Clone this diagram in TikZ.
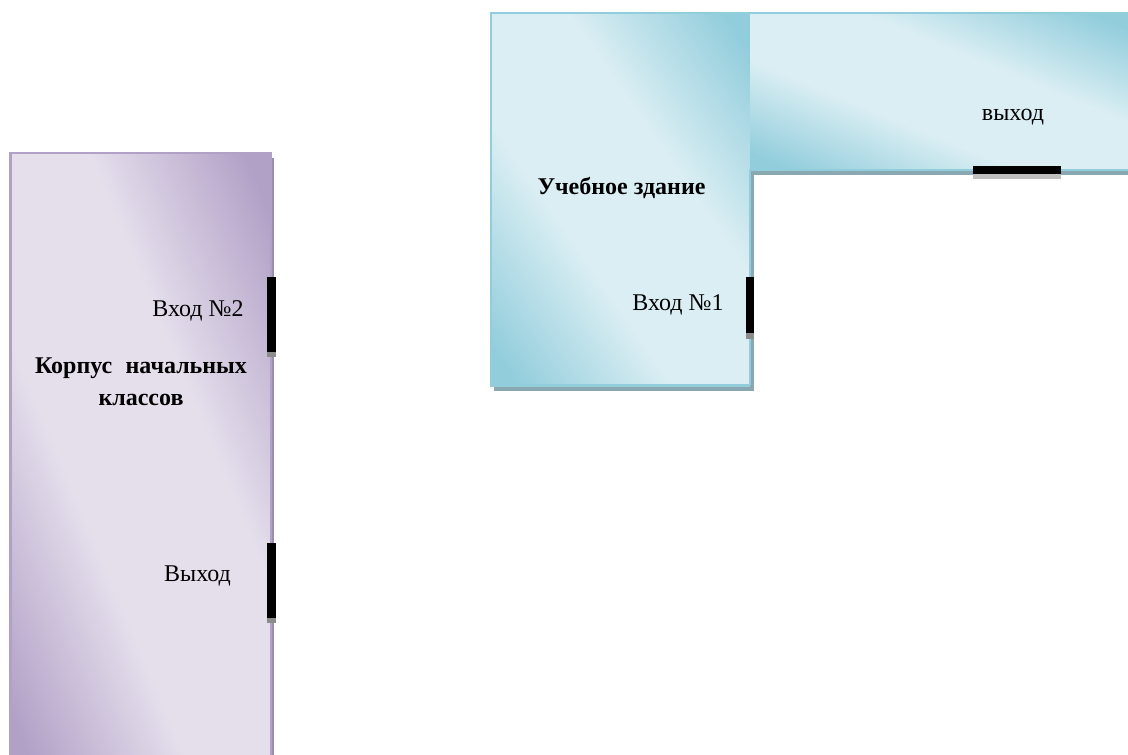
\documentclass[tikz,border=0pt]{standalone}
\usepackage{fontspec}
\setmainfont{Liberation Serif}
\definecolor{bluedark}{HTML}{92CDDC}
\definecolor{bluelight}{HTML}{DAEEF3}
\definecolor{bluesh}{HTML}{8AA8B2}
\definecolor{purpledark}{HTML}{B2A1C7}
\definecolor{purplelight}{HTML}{E5DFEC}
\definecolor{purplesh}{HTML}{9A8EAB}
\pgfdeclarehorizontalshading{blueoffice}{100bp}{color(0bp)=(bluedark); color(38.75bp)=(bluedark); color(46.25bp)=(bluelight); color(53.75bp)=(bluelight); color(61.25bp)=(bluedark); color(100bp)=(bluedark)}
\pgfdeclarehorizontalshading{purpleoffice}{100bp}{color(0bp)=(purpledark); color(38.75bp)=(purpledark); color(46.25bp)=(purplelight); color(53.75bp)=(purplelight); color(61.25bp)=(purpledark); color(100bp)=(purpledark)}
% #1 shading, #2 x1, #3 y1, #4 x2, #5 y2, #6 angle, #7 half side of the shaded square
\newcommand{\gradwing}[7]{%
  \begin{scope}
    \clip (#2,#3) rectangle (#4,#5);
    \path[shade, shading=#1, shading angle=#6]
      ({(#2+#4)/2-#7},{(#3+#5)/2-#7}) rectangle ({(#2+#4)/2+#7},{(#3+#5)/2+#7});
  \end{scope}}
\tikzset{
  blueedge/.style={draw=bluedark, line width=2pt},
  purpleedge/.style={draw=purpledark, line width=2pt},
  blueshadow/.style={fill=bluesh},
  purpleshadow/.style={fill=purplesh},
  doorbar/.style={fill=black},
  doorshadow/.style={fill=black!45},
  plain/.style={anchor=base, inner sep=0pt, font=\fontsize{18pt}{20pt}\selectfont},
  strong/.style={plain, font=\fontsize{18pt}{20pt}\selectfont\bfseries}
}
\begin{document}
\begin{tikzpicture}[x=0.75pt,y=-0.75pt]
\useasboundingbox (0,0) rectangle (1128,755);
\fill[white] (0,0) rectangle (1128,755);
% shadows
\path[purpleshadow] (13,158) rectangle (274,775);
\path[blueshadow] (494,17) rectangle (753.5,390.7);
\path[blueshadow] (753,17) rectangle (1134,174.8);
% purple building
\gradwing{purpleoffice}{10.5}{153}{271}{775}{22.8}{481}
\draw[purpleedge] (10.5,775) -- (10.5,153) -- (271,153) -- (271,775);
% blue building
\gradwing{blueoffice}{491}{13}{750}{385.5}{34.8}{425}
\gradwing{blueoffice}{750}{13}{1130}{170}{67.6}{290}
\draw[blueedge] (750,385.5) -- (491,385.5) -- (491,13) -- (1130,13);
\draw[blueedge] (1130,170) -- (750,170) -- (750,385.5);
% doors
\path[doorshadow] (267,300) rectangle (275.5,357);
\path[doorshadow] (267,590) rectangle (275.5,623);
\path[doorshadow] (746,300) rectangle (753.5,339);
\path[fill=black!25] (973,170) rectangle (1061,179);
\path[doorbar] (267,277) rectangle (275.5,352);
\path[doorbar] (267,543) rectangle (275.5,618);
\path[doorbar] (746,277) rectangle (753.5,333.5);
\path[doorbar] (973,165.7) rectangle (1061,174.3);
% labels
\node[strong] (uch) at (621.5,195) {Учебное здание};
\node[plain] (v1) at (678,311) {Вход №1};
\node[plain] (vyh2) at (1013,121) {выход};
\node[plain] (v2) at (198,317) {Вход №2};
\node[strong] (k1) at (141,374) {\hbox to 159pt{Корпус\hfil начальных}};
\node[strong] (k2) at (141,406) {классов};
\node[plain] (vyh1) at (197.5,581) {Выход};
\end{tikzpicture}
\end{document}
